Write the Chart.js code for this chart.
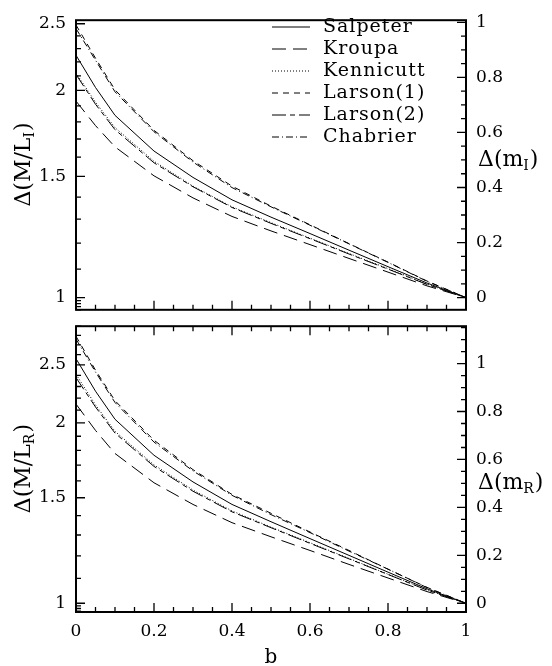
<!DOCTYPE html>
<html>
<head>
<meta charset="utf-8">
<title>Delta M/L vs b</title>
<script src="https://cdn.jsdelivr.net/npm/chart.js@4.4.1/dist/chart.umd.min.js"></script>
<style>
  html, body { margin: 0; padding: 0; background: #fff; }
  #wrap { position: relative; width: 552px; height: 666px; }
  canvas { position: absolute; left: 0; }
  #panelI { top: 0; }
  #panelR { top: 306px; }
</style>
</head>
<body>
<div id="wrap">
  <canvas id="panelI" width="552" height="330" style="width:552px;height:330px"></canvas>
  <canvas id="panelR" width="552" height="360" style="width:552px;height:360px"></canvas>
</div>
<script>
// burst fraction b
const bValues = [0, 0.05, 0.1, 0.2, 0.3, 0.4, 0.5, 0.6, 0.7, 0.8, 0.9, 1];

const imfNames = ["Salpeter", "Kroupa", "Kennicutt", "Larson(1)", "Larson(2)", "Chabrier"];
const imfDashes = [[], [14, 7], [1, 2], [6, 5], [14, 4, 5, 4], [7, 3, 1, 3]];

// Delta(M/L) in the I band
const salpeterI  = [2.25, 2.02, 1.84, 1.633, 1.495, 1.387, 1.309, 1.239, 1.172, 1.109, 1.050, 1];
const kroupaI    = [1.93, 1.778, 1.656, 1.503, 1.396, 1.312, 1.250, 1.194, 1.140, 1.089, 1.040, 1];
const kennicuttI = [2.12, 1.923, 1.766, 1.578, 1.452, 1.355, 1.285, 1.220, 1.159, 1.102, 1.046, 1];
const larson1I   = [2.49, 2.228, 2.004, 1.750, 1.581, 1.452, 1.358, 1.276, 1.198, 1.126, 1.057, 1];
const larson2I   = [2.11, 1.910, 1.754, 1.570, 1.449, 1.352, 1.282, 1.218, 1.157, 1.100, 1.045, 1];
const chabrierI  = [2.46, 2.213, 1.991, 1.742, 1.574, 1.445, 1.355, 1.274, 1.197, 1.125, 1.056, 1];

// Delta(M/L) in the R band
const salpeterR  = [2.56, 2.259, 2.028, 1.766, 1.594, 1.462, 1.368, 1.282, 1.202, 1.127, 1.057, 1];
const kroupaR    = [2.15, 1.943, 1.778, 1.589, 1.462, 1.363, 1.291, 1.225, 1.161, 1.102, 1.046, 1];
const kennicuttR = [2.41, 2.143, 1.936, 1.702, 1.545, 1.426, 1.340, 1.262, 1.188, 1.118, 1.053, 1];
const larson1R   = [2.79, 2.449, 2.178, 1.871, 1.671, 1.519, 1.413, 1.315, 1.225, 1.140, 1.063, 1];
const larson2R   = [2.38, 2.126, 1.923, 1.692, 1.538, 1.421, 1.337, 1.259, 1.186, 1.117, 1.052, 1];
const chabrierR  = [2.76, 2.432, 2.163, 1.858, 1.663, 1.514, 1.406, 1.312, 1.222, 1.140, 1.062, 1];

// tick labels
const bTickLabels = [0, 0.2, 0.4, 0.6, 0.8, 1];
const mlTickLabels = [1, 1.5, 2, 2.5];
const magTickLabels = [0, 0.2, 0.4, 0.6, 0.8, 1];

const FONT = '"DejaVu Serif", serif';

function drawTitle(ctx, x, y, main, sub, rotate) {
    ctx.save();
    ctx.translate(x, y);
    if (rotate) ctx.rotate(-Math.PI / 2);
    ctx.fillStyle = "#000";
    ctx.textBaseline = "middle";
    const big = "22px " + FONT, small = "14px " + FONT;
    ctx.font = big;
    const w1 = ctx.measureText(main).width;
    ctx.font = small;
    const w2 = ctx.measureText(sub).width;
    ctx.font = big;
    const w3 = ctx.measureText(")").width;
    let x0 = rotate ? -(w1 + w2 + w3) / 2 : 0;
    ctx.textAlign = "left";
    ctx.fillText(main, x0, 0);
    ctx.font = small;
    ctx.fillText(sub, x0 + w1, 6);
    ctx.font = big;
    ctx.fillText(")", x0 + w1 + w2 + 1, 0);
    ctx.restore();
}

const panelFrame = {
    id: "panelFrame",
    afterDatasetsDraw(chart, args, opts) {
        const { ctx, chartArea: a } = chart;
        const { x, y, m } = chart.scales;
        ctx.save();
        ctx.strokeStyle = "#000";
        ctx.setLineDash([]);
        ctx.lineWidth = 1.3;
        ctx.beginPath();
        // b ticks every 0.05
        for (let k = 0; k <= 20; k++) {
            const px = x.getPixelForValue(k / 20);
            const len = k % 4 === 0 ? 9 : 5;
            ctx.moveTo(px, a.bottom); ctx.lineTo(px, a.bottom - len);
            if (opts.ticksOnTop) { ctx.moveTo(px, a.top); ctx.lineTo(px, a.top + len); }
        }
        // M/L ticks: 0.01 below 1, 0.1 above
        for (let k = Math.ceil(y.min * 100); k < 100; k++) {
            const py = y.getPixelForValue(k / 100);
            ctx.moveTo(a.left, py); ctx.lineTo(a.left + 5, py);
        }
        for (let k = 10; k / 10 <= y.max + 1e-9; k++) {
            const py = y.getPixelForValue(k / 10);
            const len = k % 5 === 0 ? 9 : 5;
            ctx.moveTo(a.left, py); ctx.lineTo(a.left + len, py);
        }
        // magnitude ticks every 0.05
        for (let k = 0; k * 0.05 <= m.max + 1e-9; k++) {
            const py = m.getPixelForValue(k * 0.05);
            const len = k % 4 === 0 ? 9 : 5;
            ctx.moveTo(a.right, py); ctx.lineTo(a.right - len, py);
        }
        ctx.stroke();
        ctx.lineWidth = 2;
        ctx.strokeRect(a.left, a.top, a.right - a.left, a.bottom - a.top);
        ctx.restore();
    },
    afterDraw(chart, args, opts) {
        const { ctx, chartArea: a } = chart;
        const m = chart.scales.m;
        drawTitle(ctx, 24, (a.top + a.bottom) / 2, "\u0394(M/L", opts.band, true);
        drawTitle(ctx, 478, m.getPixelForValue(0.5), "\u0394(m", opts.band, false);

        if (opts.legend) {
            ctx.save();
            ctx.fillStyle = "#000";
            ctx.strokeStyle = "#000";
            ctx.lineWidth = 1;
            ctx.font = "19px " + FONT;
            ctx.textBaseline = "middle";
            ctx.letterSpacing = "1px";
            chart.data.datasets.forEach((ds, i) => {
                const ly = 27 + i * 22;
                ctx.setLineDash(ds.borderDash);
                ctx.beginPath();
                ctx.moveTo(272, ly); ctx.lineTo(310, ly);
                ctx.stroke();
                ctx.fillText(ds.label, 323, ly);
            });
            ctx.restore();
        }
        if (opts.xTitle) {
            ctx.save();
            ctx.fillStyle = "#000";
            ctx.font = "20px " + FONT;
            ctx.textAlign = "center";
            ctx.textBaseline = "alphabetic";
            ctx.fillText("b", (a.left + a.right) / 2, a.bottom + 51);
            ctx.restore();
        }
    }
};

function buildPanel(canvasId, series, yMin, yMax, band, isBottom) {
    const canvas = /** @type {HTMLCanvasElement} */ (document.getElementById(canvasId));
    const tickFont = { family: FONT, size: 17 };
    return new Chart(canvas.getContext("2d"), {
        type: "line",
        data: {
            datasets: series.map((vals, i) => ({
                label: imfNames[i],
                data: bValues.map((b, j) => ({ x: b, y: vals[j] })),
                borderColor: "#000",
                borderWidth: 1,
                borderDash: imfDashes[i],
                pointRadius: 0,
                tension: 0,
                fill: false
            }))
        },
        options: {
            responsive: false,
            animation: false,
            events: [],
            layout: { padding: { top: 10, bottom: 0, left: 0, right: 0 } },
            plugins: {
                legend: { display: false },
                tooltip: { enabled: false },
                panelFrame: { band: band, legend: !isBottom, ticksOnTop: isBottom, xTitle: isBottom }
            },
            scales: {
                x: {
                    type: "linear",
                    min: 0,
                    max: 1,
                    afterFit: s => { s.height = isBottom ? 54 : 14; },
                    afterBuildTicks: s => { s.ticks = bTickLabels.map(v => ({ value: v })); },
                    ticks: {
                        display: isBottom,
                        autoSkip: false,
                        maxRotation: 0,
                        padding: 9,
                        color: "#000",
                        font: tickFont,
                        callback: v => String(v)
                    },
                    grid: { display: false, drawTicks: false },
                    border: { display: false }
                },
                y: {
                    type: "logarithmic",
                    position: "left",
                    min: yMin,
                    max: yMax,
                    afterFit: s => { s.width = 76; },
                    afterBuildTicks: s => { s.ticks = mlTickLabels.map(v => ({ value: v })); },
                    ticks: {
                        autoSkip: false,
                        padding: 10,
                        color: "#000",
                        font: tickFont,
                        callback: v => String(v)
                    },
                    grid: { display: false, drawTicks: false },
                    border: { display: false }
                },
                m: {
                    type: "linear",
                    position: "right",
                    // magnitude axis: 2.5 log10 of the M/L ratio
                    min: 2.5 * Math.log10(yMin),
                    max: 2.5 * Math.log10(yMax),
                    afterFit: s => { s.width = 86; },
                    afterBuildTicks: s => { s.ticks = magTickLabels.map(v => ({ value: v })); },
                    ticks: {
                        autoSkip: false,
                        padding: 10,
                        color: "#000",
                        font: tickFont,
                        callback: v => String(v)
                    },
                    grid: { display: false, drawTicks: false },
                    border: { display: false }
                }
            }
        },
        plugins: [panelFrame]
    });
}

buildPanel("panelI", [salpeterI, kroupaI, kennicuttI, larson1I, larson2I, chabrierI], 0.960, 2.53, "I", false);
buildPanel("panelR", [salpeterR, kroupaR, kennicuttR, larson1R, larson2R, chabrierR], 0.967, 2.90, "R", true);
</script>
</body>
</html>
